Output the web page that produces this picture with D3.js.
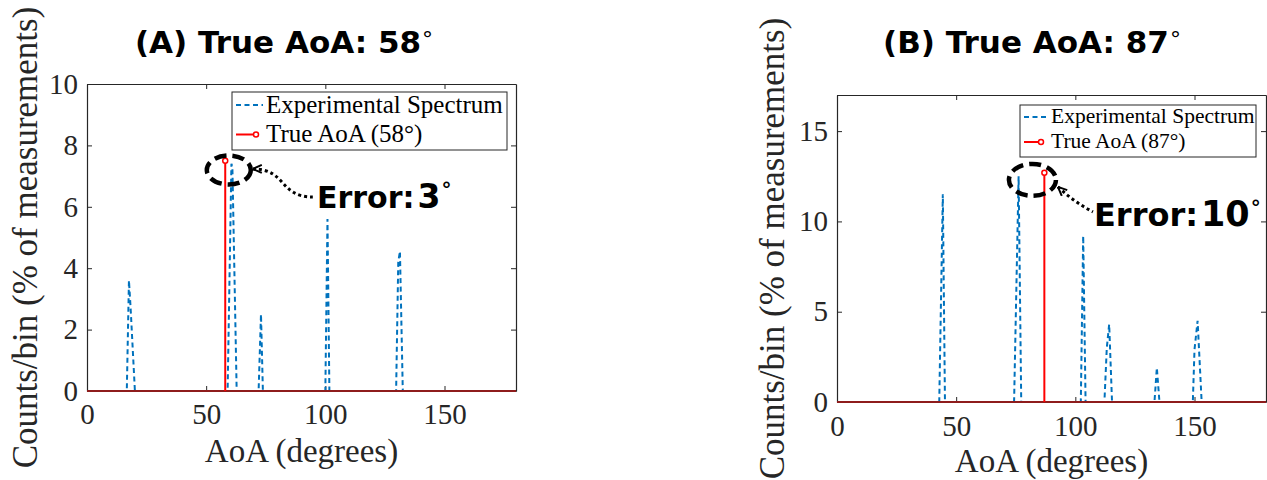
<!DOCTYPE html>
<html>
<head>
<meta charset="utf-8">
<script src="https://cdn.jsdelivr.net/npm/d3@7"></script>
<style>
  body { margin: 0; background: #fff; }
  svg { display: block; }
</style>
</head>
<body>
<svg id="chart" width="1267" height="480"></svg>
<script>
// ---- values ----
const xTicks = [0, 50, 100, 150];
const yTicksA = [0, 2, 4, 6, 8, 10];
const yTicksB = [0, 5, 10, 15];

// (A) experimental spectrum: angle (deg) / counts per bin (%)
const angleA = [0, 16.7, 17.6, 18.3, 20.1, 59.0, 60.6, 61.0, 62.8, 72.0, 73.0, 73.8, 100.0, 100.9, 101.7, 129.7, 130.6, 131.3, 132.5, 180];
const countA = [0, 0, 3.6, 2.7, 0, 0, 7.4, 7.3, 0, 0, 2.5, 0, 0, 5.6, 0, 0, 4.2, 4.55, 0, 0];
const trueAoaA = 58, trueCountA = 7.5, estAoaA = 61;

// (B) experimental spectrum
const angleB = [0, 42.9, 44.4, 45.3, 74.3, 76.2, 77.3, 102.3, 103.3, 104.3, 112.2, 113.2, 114.2, 115.4, 133.2, 134.2, 135.3, 149.3, 150.0, 151.3, 153.0, 180];
const countB = [0, 0, 11.5, 0, 0, 12.5, 0, 0, 9.2, 0, 0, 3.0, 4.3, 0, 0, 1.9, 0, 0, 2.9, 4.5, 0, 0];
const trueAoaB = 87, trueCountB = 12.7, estAoaB = 77;

const titles = ["(A) True AoA: 58", "(B) True AoA: 87"];
const errorLabels = ["3", "10"];
const legendLabels = ["Experimental Spectrum", "True AoA"];

const svg = d3.select("#chart");
const SERIF = "'Liberation Serif', 'Times New Roman', serif";
const SANS = "'DejaVu Sans', sans-serif";
const AXIS_COLOR = "#262626";
const BLUE = "#0072BD";
const RED = "#ff0000";

// open arrow head for the annotation
svg.append("defs").append("marker")
    .attr("id", "chevron")
    .attr("viewBox", "0 0 10 10")
    .attr("refX", 10).attr("refY", 5)
    .attr("markerWidth", 10).attr("markerHeight", 10)
    .attr("markerUnits", "userSpaceOnUse")
    .attr("orient", "auto-start-reverse")
    .append("path")
    .attr("d", "M1,1 L10,5 L1,9")
    .attr("fill", "none")
    .attr("stroke", "#000")
    .attr("stroke-width", 2);

function drawPanel(p) {
    const x = d3.scaleLinear().domain([0, 180]).range([p.left, p.right]);
    const y = d3.scaleLinear().domain([0, p.yMax]).range([p.bottom, p.top]);
    const g = svg.append("g");

    // axes (ticks inside, box on)
    const styleAxis = sel => {
        sel.select(".domain").attr("stroke", AXIS_COLOR).attr("stroke-width", 1.2);
        sel.selectAll(".tick line").attr("stroke", AXIS_COLOR).attr("stroke-width", 1);
        sel.selectAll(".tick text")
            .attr("fill", AXIS_COLOR)
            .style("font-family", SERIF)
            .style("font-size", "29px");
    };
    g.append("g").attr("transform", `translate(0,${p.bottom})`)
        .call(d3.axisBottom(x).tickValues(xTicks).tickSizeInner(-5).tickSizeOuter(0).tickPadding(p.xPad))
        .call(styleAxis);
    g.append("g").attr("transform", `translate(0,${p.top})`)
        .call(d3.axisTop(x).tickValues(xTicks).tickSizeInner(-5).tickSizeOuter(0).tickFormat(""))
        .call(styleAxis);
    g.append("g").attr("transform", `translate(${p.left},0)`)
        .call(d3.axisLeft(y).tickValues(p.yTicks).tickSizeInner(-5).tickSizeOuter(0).tickPadding(9))
        .call(styleAxis);
    g.append("g").attr("transform", `translate(${p.right},0)`)
        .call(d3.axisRight(y).tickValues(p.yTicks).tickSizeInner(-5).tickSizeOuter(0).tickFormat(""))
        .call(styleAxis);

    // spectrum
    const pts = p.angles.map((a, i) => [a, p.counts[i]]);
    g.append("path")
        .datum(pts)
        .attr("fill", "none")
        .attr("stroke", BLUE)
        .attr("stroke-width", 2)
        .attr("stroke-dasharray", "5,3.5")
        .attr("d", d3.line().x(d => x(d[0])).y(d => y(d[1])));

    // stem baseline + true AoA stem
    g.append("line")
        .attr("x1", x(0)).attr("x2", x(180))
        .attr("y1", y(0)).attr("y2", y(0))
        .attr("stroke", "#8e1c1c").attr("stroke-width", 2);
    g.append("line")
        .attr("x1", x(p.trueAoa)).attr("x2", x(p.trueAoa))
        .attr("y1", y(0)).attr("y2", y(p.trueCount))
        .attr("stroke", RED).attr("stroke-width", 2);
    g.append("circle")
        .attr("cx", x(p.trueAoa)).attr("cy", y(p.trueCount)).attr("r", 2.5)
        .attr("fill", "#fff").attr("stroke", RED).attr("stroke-width", 1.5);

    // annotation: dashed ellipse, dotted arrow and error text
    const cx = x((p.trueAoa + p.estAoa) / 2), cy = y(p.ellipseVal);
    g.append("ellipse")
        .attr("cx", cx).attr("cy", cy).attr("rx", p.rx).attr("ry", p.ry)
        .attr("fill", "none").attr("stroke", "#000")
        .attr("stroke-width", 4.5).attr("stroke-dasharray", "12,6");
    g.append("path")
        .attr("d", p.arrow(cx + p.rx, cy))
        .attr("fill", "none").attr("stroke", "#000")
        .attr("stroke-width", 3).attr("stroke-dasharray", "3,3")
        .attr("marker-start", "url(#chevron)");
    const err = g.append("text")
        .attr("x", p.errX).attr("y", p.errY)
        .style("font-family", SANS).style("font-weight", "bold")
        .style("font-size", p.errSize + "px")
        .attr("fill", "#000");
    err.append("tspan").text("Error:");
    err.append("tspan").attr("dx", 3).style("font-size", (p.errSize + 3) + "px").text(p.errText);
    err.append("tspan").attr("dx", 1).attr("dy", -12).style("font-size", "20px").text("°");

    // title
    const t = g.append("text")
        .attr("x", p.titleX).attr("y", 53)
        .attr("text-anchor", "middle")
        .style("font-family", SANS).style("font-weight", "bold").style("font-size", "31px")
        .attr("fill", "#000");
    t.append("tspan").text(p.title);
    t.append("tspan").attr("dx", 1).attr("dy", -6).style("font-weight", "normal").style("font-size", "22px").text("°");

    // axis labels
    g.append("text")
        .attr("x", (p.left + p.right) / 2).attr("y", p.xLabelY)
        .attr("text-anchor", "middle")
        .style("font-family", SERIF).style("font-size", "33px")
        .attr("fill", AXIS_COLOR)
        .text("AoA (degrees)");
    g.append("text")
        .attr("transform", `translate(${p.yLabelX},${(p.top + p.bottom) / 2}) rotate(-90)`)
        .attr("text-anchor", "middle")
        .style("font-family", SERIF).style("font-size", "35px")
        .attr("fill", AXIS_COLOR)
        .text("Counts/bin (% of measurements)");

    // legend
    const L = p.legend;
    const lg = g.append("g");
    lg.append("rect")
        .attr("x", L.x).attr("y", L.y).attr("width", L.w).attr("height", L.h)
        .attr("fill", "#fff").attr("stroke", AXIS_COLOR).attr("stroke-width", 1);
    lg.append("line")
        .attr("x1", L.x + 4).attr("x2", L.x + L.sample)
        .attr("y1", L.row1).attr("y2", L.row1)
        .attr("stroke", BLUE).attr("stroke-width", 2).attr("stroke-dasharray", "5,3.5");
    lg.append("line")
        .attr("x1", L.x + 4).attr("x2", L.x + L.sample - 6)
        .attr("y1", L.row2).attr("y2", L.row2)
        .attr("stroke", RED).attr("stroke-width", 2);
    lg.append("circle")
        .attr("cx", L.x + L.sample - 7).attr("cy", L.row2).attr("r", 2.5)
        .attr("fill", "#fff").attr("stroke", RED).attr("stroke-width", 1.5);
    [legendLabels[0], `${legendLabels[1]} (${p.trueAoa}°)`].forEach((s, i) => {
        lg.append("text")
            .attr("x", L.x + L.sample + 3)
            .attr("y", (i === 0 ? L.row1 : L.row2) + L.fs * 0.3)
            .style("font-family", SERIF).style("font-size", L.fs + "px")
            .attr("fill", "#000")
            .text(s);
    });
}

drawPanel({
    left: 87, right: 516, top: 84, bottom: 391, yMax: 10, yTicks: yTicksA, xPad: 12,
    angles: angleA, counts: countA,
    trueAoa: trueAoaA, trueCount: trueCountA, estAoa: estAoaA,
    ellipseVal: 7.2, rx: 22, ry: 14.5,
    arrow: (ex, ey) => `M${ex + 2},${ey - 1} C${ex + 36},${ey - 1} ${ex + 28},${ey + 27} ${ex + 62},${ey + 27}`,
    errX: 317, errY: 208, errSize: 30, errText: errorLabels[0],
    title: titles[0], titleX: 284,
    xLabelY: 462, yLabelX: 37,
    legend: { x: 232, y: 92, w: 275, h: 58, row1: 105, row2: 134.5, sample: 31, fs: 25 }
});

drawPanel({
    left: 837, right: 1266, top: 95, bottom: 402, yMax: 17, yTicks: yTicksB, xPad: 13,
    angles: angleB, counts: countB,
    trueAoa: trueAoaB, trueCount: trueCountB, estAoa: estAoaB,
    ellipseVal: 12.3, rx: 23.5, ry: 16,
    arrow: (ex, ey) => `M${ex + 2},${ey + 7} Q${ex + 18},${ey + 22} ${ex + 37},${ey + 32}`,
    errX: 1094, errY: 226, errSize: 32, errText: errorLabels[1],
    title: titles[1], titleX: 1032,
    xLabelY: 472, yLabelX: 784,
    legend: { x: 1020, y: 105, w: 236, h: 52, row1: 117, row2: 142, sample: 28, fs: 21.5 }
});
</script>
</body>
</html>
